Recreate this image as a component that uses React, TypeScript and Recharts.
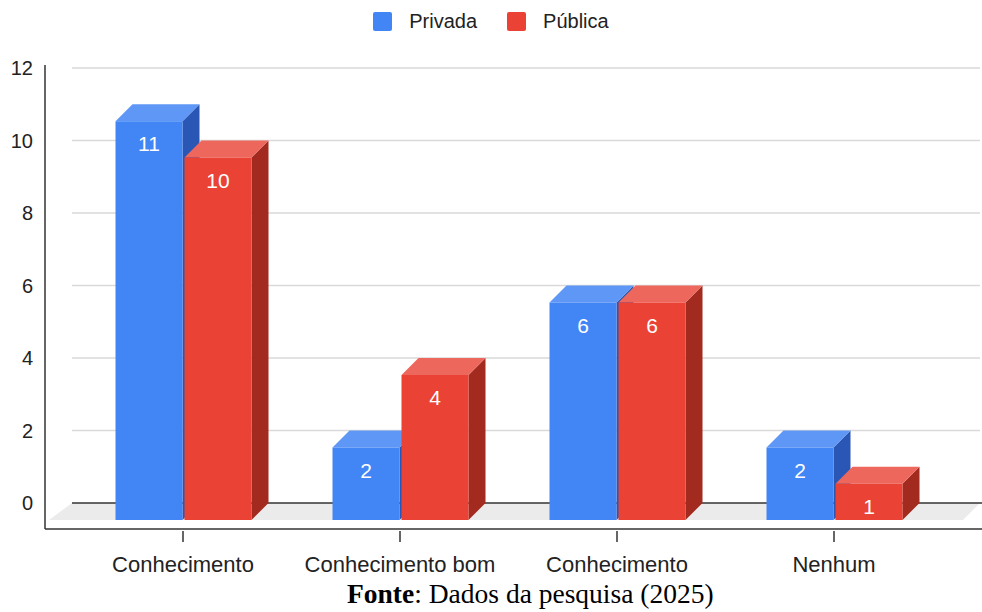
import { BarChart, Bar, XAxis, YAxis, CartesianGrid, Legend, LabelList } from 'recharts';

const CATEGORIES = ['Conhecimento', 'Conhecimento bom', 'Conhecimento', 'Nenhum'];
const PRIVADA = [11, 2, 6, 2];
const PUBLICA = [10, 4, 6, 1];
const Y_TICKS = [0, 2, 4, 6, 8, 10, 12];

const SERIES = [
  { key: 'privada', name: 'Privada', front: '#4285f4', top: '#5f97f6', side: '#2a56b5' },
  { key: 'publica', name: 'Pública', front: '#ea4335', top: '#ee675c', side: '#a22a1f' },
];

const data = CATEGORIES.map((name, i) => ({ name, privada: PRIVADA[i], publica: PUBLICA[i] }));

const W = 982;
const H = 612;
const TOP = 68;
const XAXIS_H = 109;
const PLOT_BOTTOM = H - XAXIS_H;
const D = 17; // 3d depth
const FONT = '"Liberation Sans", Arial, sans-serif';

function Bar3D(props: any) {
  const { x, y, width, height, front, top, side } = props;
  if (height == null || width == null) return null;
  const b = y + height;
  return (
    <g>
      <polygon points={`${x - D + width},${y + D} ${x + width},${y} ${x + width},${b} ${x - D + width},${b + D}`} fill={side} />
      <polygon points={`${x - D},${y + D} ${x},${y} ${x + width},${y} ${x - D + width},${y + D}`} fill={top} />
      <rect x={x - D} y={y + D} width={width} height={height} fill={front} />
    </g>
  );
}

function gridLine(props: any) {
  const { x1, x2, y1, y2, index } = props;
  if (Math.abs(y1 - PLOT_BOTTOM) < 1) {
    return (
      <g key={`h-${index}`}>
        <polygon points={`${x1},${y1} ${x2},${y1} ${x2 - D},${y1 + D} ${x1 - D - 6},${y1 + D}`} fill="#ebebeb" />
        <line x1={x1} x2={x2 + 2} y1={y1} y2={y2} stroke="#333" strokeWidth={1.5} />
        <line x1={x1 - 27} x2={x1 - 27} y1={TOP - 3} y2={y1 + 26} stroke="#333" strokeWidth={1.5} />
        <line x1={x1 - 27} x2={x2 + 2} y1={y1 + 26} y2={y1 + 26} stroke="#333" strokeWidth={1.5} />
      </g>
    );
  }
  return <line key={`h-${index}`} x1={x1} x2={x2} y1={y1} y2={y2} stroke="#d9d9d9" strokeWidth={1.5} />;
}

function XTick(props: any) {
  const { x, y, payload } = props;
  const fx = x - D;
  return (
    <g>
      <line x1={fx} x2={fx} y1={y + 26} y2={y + 37} stroke="#333" strokeWidth={1.5} />
      <text x={fx} y={y + 67} textAnchor="middle" fill="#222" fontSize={22} fontFamily={FONT}>
        {payload.value}
      </text>
    </g>
  );
}

function ValueLabel(props: any) {
  const { x, y, width, value } = props;
  return (
    <text x={x - D + width / 2} y={y + D + 30} textAnchor="middle" fill="#fff" fontSize={21} fontFamily={FONT}>
      {value}
    </text>
  );
}

function LegendContent() {
  return (
    <div style={{ display: 'flex', justifyContent: 'center', alignItems: 'center', fontFamily: FONT, fontSize: 20, color: '#222' }}>
      {SERIES.map((s, i) => (
        <div key={s.key} style={{ display: 'flex', alignItems: 'center', marginLeft: i ? 30 : 0 }}>
          <span style={{ width: 19, height: 19, borderRadius: 2, background: s.front, marginRight: 17, display: 'inline-block' }} />
          <span>{s.name}</span>
        </div>
      ))}
    </div>
  );
}

export default function App() {
  return (
    <div style={{ position: 'relative', width: W, height: H, background: '#fff' }}>
      <style>{'body{margin:0}'}</style>
      <BarChart width={W} height={H} data={data} margin={{ top: TOP, right: 2, bottom: 0, left: 0 }} barSize={67} barGap={2}>
        <CartesianGrid vertical={false} horizontal={gridLine} />
        <XAxis
          dataKey="name"
          height={XAXIS_H}
          padding={{ left: 19.5, right: 20.5 }}
          axisLine={false}
          tickLine={false}
          tickSize={0}
          tick={<XTick />}
          interval={0}
        />
        <YAxis
          width={72}
          domain={[0, 12]}
          ticks={Y_TICKS}
          axisLine={false}
          tickLine={false}
          tickSize={0}
          tickMargin={39}
          tick={{ fill: '#222', fontSize: 20, fontFamily: FONT }}
        />
        <Legend
          layout="horizontal"
          verticalAlign="middle"
          align="center"
          wrapperStyle={{ top: 10, left: 0, width: W }}
          content={<LegendContent />}
        />
        {SERIES.map((s) => (
          <Bar
            key={s.key}
            dataKey={s.key}
            name={s.name}
            fill={s.front}
            isAnimationActive={false}
            shape={(p: any) => <Bar3D {...p} front={s.front} top={s.top} side={s.side} />}
          >
            <LabelList dataKey={s.key} content={<ValueLabel />} />
          </Bar>
        ))}
      </BarChart>
      <div
        style={{
          position: 'absolute',
          left: 347,
          top: 580,
          lineHeight: '27.5px',
          whiteSpace: 'nowrap',
          fontFamily: '"Liberation Serif", "Times New Roman", serif',
          fontSize: 27.5,
          color: '#000',
        }}
      >
        <b>Fonte</b>: Dados da pesquisa (2025)
      </div>
    </div>
  );
}
